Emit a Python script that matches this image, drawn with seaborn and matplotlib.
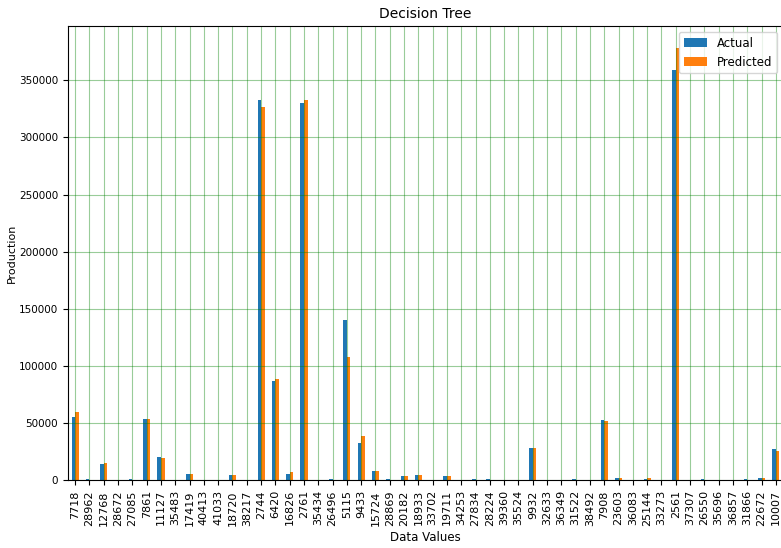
import matplotlib
matplotlib.use("Agg")
import matplotlib.pyplot as plt
import seaborn as sns
import pandas as pd

# Record ids shown on the x axis
ids = ["7718", "28962", "12768", "28672", "27085", "7861", "11127", "35483",
       "17419", "40413", "41033", "18720", "38217", "2744", "6420", "16826",
       "2761", "35434", "26496", "5115", "9433", "15724", "28869", "20182",
       "18933", "33702", "19711", "34253", "27834", "28224", "39360", "35524",
       "9932", "32633", "36349", "31522", "38492", "7908", "23603", "36083",
       "25144", "33273", "2561", "37307", "26550", "35696", "36857", "31866",
       "22672", "10007"]

actual = [55800, 900, 14600, 800, 900, 53800, 20300, 100,
          5800, 100, 100, 5000, 100, 332500, 87300, 5700,
          330000, 100, 900, 140000, 32600, 8000, 900, 4200,
          5200, 100, 3800, 100, 900, 900, 100, 100,
          28500, 100, 100, 900, 100, 53200, 2400, 100,
          1500, 100, 358700, 100, 900, 100, 100, 900,
          2500, 27300]

predicted = [59600, 700, 15700, 700, 800, 54000, 20000, 100,
             5800, 100, 100, 5000, 100, 326400, 88800, 7700,
             332500, 100, 800, 107600, 39300, 8000, 800, 4200,
             5200, 100, 3800, 100, 800, 800, 100, 100,
             28500, 100, 100, 800, 100, 52400, 2000, 100,
             2000, 100, 378500, 100, 800, 100, 100, 800,
             2500, 26200]

df = pd.DataFrame({"id": ids, "Actual": actual, "Predicted": predicted})
long = df.melt(id_vars="id", var_name="series", value_name="Production")

fig = plt.figure(figsize=(7.81, 5.48), dpi=100)
ax = fig.add_axes([0.0871, 0.1232, 0.9155, 0.8294])

sns.barplot(data=long, x="id", y="Production", hue="series", order=ids,
            palette=["#1f77b4", "#ff7f0e"], saturation=1, width=0.5,
            errorbar=None, ax=ax)

ax.grid(True, color="green", alpha=0.4, linewidth=0.8)
ax.set_title("Decision Tree", fontsize=10)
ax.set_xlabel("Data Values", fontsize=8.5)
ax.set_ylabel("Production", fontsize=8)
ax.yaxis.set_label_coords(-0.072, 0.5)
ax.tick_params(axis="x", labelrotation=90, labelsize=8)
ax.tick_params(axis="y", labelsize=7.5)
ax.legend(loc="upper right", fontsize=8.5, title=None)

fig.savefig("out.png", dpi=100)
